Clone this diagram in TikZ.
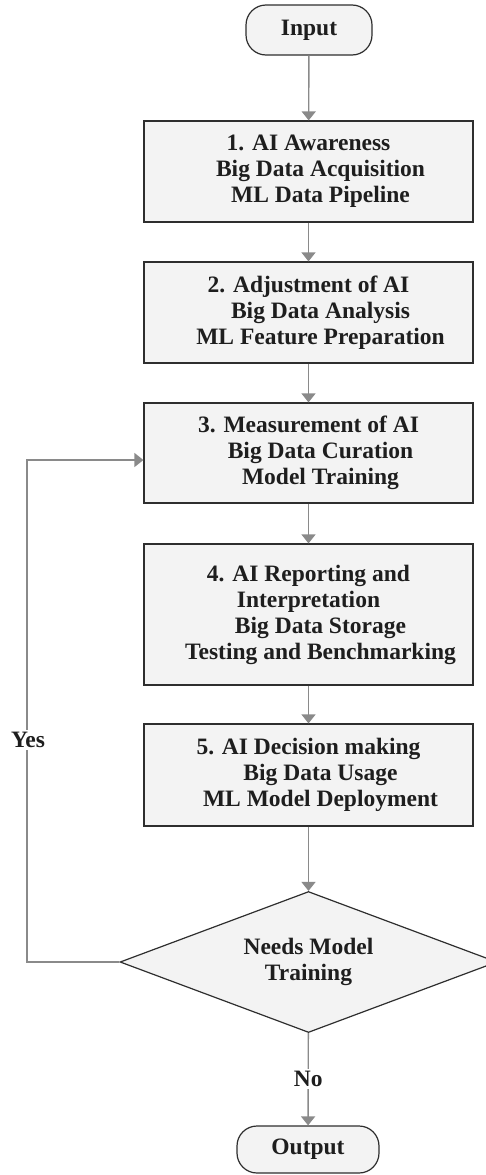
\documentclass[tikz,border=0pt]{standalone}
\usepackage{fontspec}
\setmainfont{Liberation Serif}
\usetikzlibrary{shapes.geometric,arrows.meta}
\definecolor{boxfill}{HTML}{F3F3F3}
\definecolor{boxline}{HTML}{2E2E2E}
\definecolor{flowgray}{HTML}{8A8A8A}
\definecolor{txtdark}{HTML}{1E1E1E}
\newcommand{\ind}{\hspace*{24pt}}

\begin{document}
\begin{tikzpicture}[x=1pt,y=-1pt,
  font=\fontsize{23.5}{26}\selectfont\bfseries,
  every node/.append style={text=txtdark},
  term/.style={draw=boxline,line width=1.2pt,fill=boxfill,rounded corners=20pt,inner sep=0pt},
  stage/.style={draw=boxline,line width=1.2pt,fill=boxfill,minimum width=329pt,inner sep=0pt,align=center},
  decide/.style={diamond,draw=boxline,line width=1.2pt,fill=boxfill,minimum width=377pt,minimum height=141pt,inner sep=0pt,aspect=2.67,align=center},
  flow/.style={draw=flowgray,line width=1.4pt,-{Triangle[width=14pt,length=9pt]}},
  lab/.style={fill=white,inner sep=2pt}]
\useasboundingbox (0,0) rectangle (485,1175);
\node[term,minimum width=126pt,minimum height=50pt] (in) at (309,30) {Input};
\node[stage,minimum height=101pt] (m1) at (308.5,171.5) {1. AI Awareness\\\ind Big Data Acquisition\\\ind ML Data Pipeline};
\node[stage,minimum height=101pt] (m2) at (308.5,312.5) {2. Adjustment of AI\\\ind Big Data Analysis\\\ind ML Feature Preparation};
\node[stage,minimum height=100pt] (m3) at (308.5,453) {3. Measurement of AI\\\ind Big Data Curation\\\ind Model Training};
\node[stage,minimum height=141pt] (m4) at (308.5,614.5) {4. AI Reporting and\\Interpretation\\\ind Big Data Storage\\\ind Testing and Benchmarking};
\node[stage,minimum height=102pt] (m5) at (308.5,775) {5. AI Decision making\\\ind Big Data Usage\\\ind ML Model Deployment};
\node[decide] (dec) at (308.5,962) {Needs Model\\Training};
\node[term,minimum width=142pt,minimum height=47pt] (out) at (308,1149.5) {Output};
\coordinate (lp) at (27,460);

\draw[flow] (in) -- (m1);
\draw[flow] (m1) -- (m2);
\draw[flow] (m2) -- (m3);
\draw[flow] (m3) -- (m4);
\draw[flow] (m4) -- (m5);
\draw[flow] (m5) -- (dec);
\draw[flow] (dec) -- node[lab] (no) {No} (out);
\draw[flow] (dec.west) -| (lp) -- (lp -| m3.west);
\node[lab] (yes) at (28,740) {Yes};
\end{tikzpicture}
\end{document}
